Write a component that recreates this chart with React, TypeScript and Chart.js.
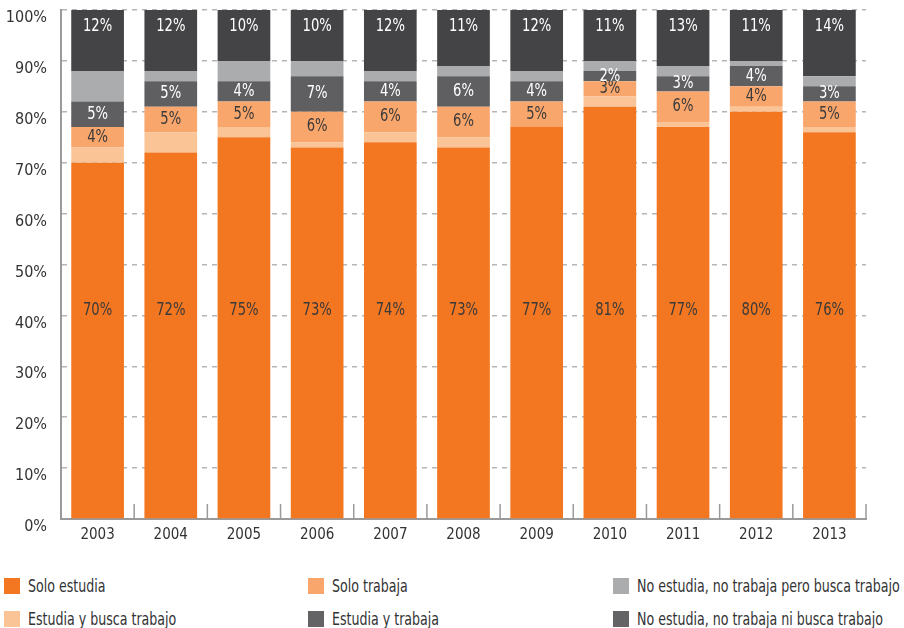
import React, { useEffect, useRef } from "react";
import { Chart, registerables } from "chart.js";
Chart.register(...registerables);

const years = ["2003", "2004", "2005", "2006", "2007", "2008", "2009", "2010", "2011", "2012", "2013"];
const soloEstudia = [70, 72, 75, 73, 74, 73, 77, 81, 77, 80, 76];
const estudiaBusca = [3, 4, 2, 1, 2, 2, 0, 2, 1, 1, 1];
const soloTrabaja = [4, 5, 5, 6, 6, 6, 5, 3, 6, 4, 5];
const estudiaTrabaja = [5, 5, 4, 7, 4, 6, 4, 2, 3, 4, 3];
const noEstBusca = [6, 2, 4, 3, 2, 2, 2, 2, 2, 1, 2];
const noEstNiBusca = [12, 12, 10, 10, 12, 11, 12, 11, 13, 11, 14];
const yTicks = [0, 10, 20, 30, 40, 50, 60, 70, 80, 90, 100];

const seriesNames = [
  "Solo estudia",
  "Estudia y busca trabajo",
  "Solo trabaja",
  "Estudia y trabaja",
  "No estudia, no trabaja pero busca trabajo",
  "No estudia, no trabaja ni busca trabajo",
];
const colors = ["#F37721", "#FBC497", "#F9A66C", "#5F5F61", "#ABACAE", "#444446"];
const legendColors = ["#F37721", "#FBC497", "#F9A66C", "#636365", "#ABACAE", "#636365"];

const FONT = "'DejaVu Sans Condensed', 'Liberation Sans', sans-serif";

const labelPlugin = {
  id: "segLabels",
  afterDatasetsDraw(chart: any) {
    const ctx = chart.ctx;
    const y = chart.scales.y;
    const area = chart.chartArea;
    ctx.save();
    ctx.font = `17px ${FONT}`;
    ctx.textAlign = "center";
    ctx.textBaseline = "middle";
    const draw = (dsIndex: number, values: number[], color: string, mode: string) => {
      const meta = chart.getDatasetMeta(dsIndex);
      meta.data.forEach((el: any, i: number) => {
        let ty: number;
        if (mode === "fixed") ty = y.getPixelForValue(41);
        else if (mode === "top") ty = area.top + 17;
        else ty = (el.y + el.base) / 2;
        ctx.save();
        ctx.translate(el.x, ty);
        ctx.scale(0.86, 1);
        ctx.fillStyle = color;
        ctx.fillText(`${values[i]}%`, 0, 0);
        ctx.restore();
      });
    };
    draw(0, soloEstudia, "#3a3a3a", "fixed");
    draw(2, soloTrabaja, "#3a3a3a", "center");
    draw(3, estudiaTrabaja, "#ffffff", "center");
    draw(5, noEstNiBusca, "#ffffff", "top");
    ctx.restore();
  },
  beforeDatasetsDraw(chart: any) {
    const ctx = chart.ctx;
    const x = chart.scales.x;
    const area = chart.chartArea;
    ctx.save();
    ctx.strokeStyle = "#9a9a9a";
    ctx.lineWidth = 1.5;
    for (let i = 0; i <= years.length; i++) {
      const px = x.left + (i * (x.right - x.left)) / years.length;
      ctx.beginPath();
      ctx.moveTo(px, area.bottom);
      ctx.lineTo(px, area.bottom - 15);
      ctx.stroke();
    }
    ctx.restore();
  },
};

export default function App() {
  const ref = useRef<HTMLCanvasElement | null>(null);
  useEffect(() => {
    if (!ref.current) return;
    const all = [soloEstudia, estudiaBusca, soloTrabaja, estudiaTrabaja, noEstBusca, noEstNiBusca];
    const chart = new Chart(ref.current, {
      type: "bar",
      data: {
        labels: years,
        datasets: all.map((d, k) => ({
          label: seriesNames[k],
          data: d,
          backgroundColor: colors[k],
          borderWidth: 0,
          categoryPercentage: 1,
          barPercentage: 0.72,
          clip: 0,
        })),
      },
      options: {
        animation: false,
        responsive: true,
        maintainAspectRatio: false,
        layout: { padding: { top: 10, right: 38, left: 0, bottom: 0 } },
        plugins: { legend: { display: false }, tooltip: { enabled: false } },
        scales: {
          x: {
            stacked: true,
            grid: { display: false, drawTicks: false },
            border: { display: true, color: "#9a9a9a", width: 2 },
            ticks: { color: "#333", font: { family: FONT, size: 15 }, padding: 7 },
            afterFit: (s: any) => { s.height = 26; s.paddingLeft = 0; s.paddingRight = 0; },
          },
          y: {
            stacked: true,
            min: 0,
            max: 100,
            afterBuildTicks: (s: any) => { s.ticks = yTicks.map((v) => ({ value: v })); },
            grid: { color: "#b5b5b5", lineWidth: 1.5, drawTicks: false },
            border: { display: true, color: "#9a9a9a", width: 2, dash: [5, 5] },
            ticks: {
              color: "#333",
              font: { family: FONT, size: 16 },
              padding: 14,
              labelOffset: 8,
              callback: (v: any) => `${v}%`,
            },
            afterFit: (s: any) => { s.width = 61; s.paddingTop = 0; s.paddingBottom = 0; },
          },
        },
      },
      plugins: [labelPlugin],
    } as any);
    return () => chart.destroy();
  }, []);

  const legendPos = [
    { left: 4, top: 578 },
    { left: 4, top: 611 },
    { left: 308, top: 578 },
    { left: 308, top: 611 },
    { left: 613, top: 578 },
    { left: 613, top: 611 },
  ];

  return (
    <div style={{ position: "absolute", left: 0, top: 0, width: 904, height: 628, background: "#fff", fontFamily: FONT }}>
      <div style={{ position: "relative", width: 904, height: 545 }}>
        <canvas ref={ref} />
      </div>
      {seriesNames.map((n, k) => (
        <div key={n} style={{ position: "absolute", left: legendPos[k].left, top: legendPos[k].top, display: "flex", alignItems: "center", height: 16 }}>
          <span style={{ width: 16, height: 16, background: legendColors[k], display: "inline-block", flex: "none" }} />
          <span style={{ marginLeft: 8, fontSize: 17, color: "#333", whiteSpace: "nowrap", lineHeight: "16px", display: "inline-block", transform: "scaleX(0.825)", transformOrigin: "left center" }}>{n}</span>
        </div>
      ))}
    </div>
  );
}
